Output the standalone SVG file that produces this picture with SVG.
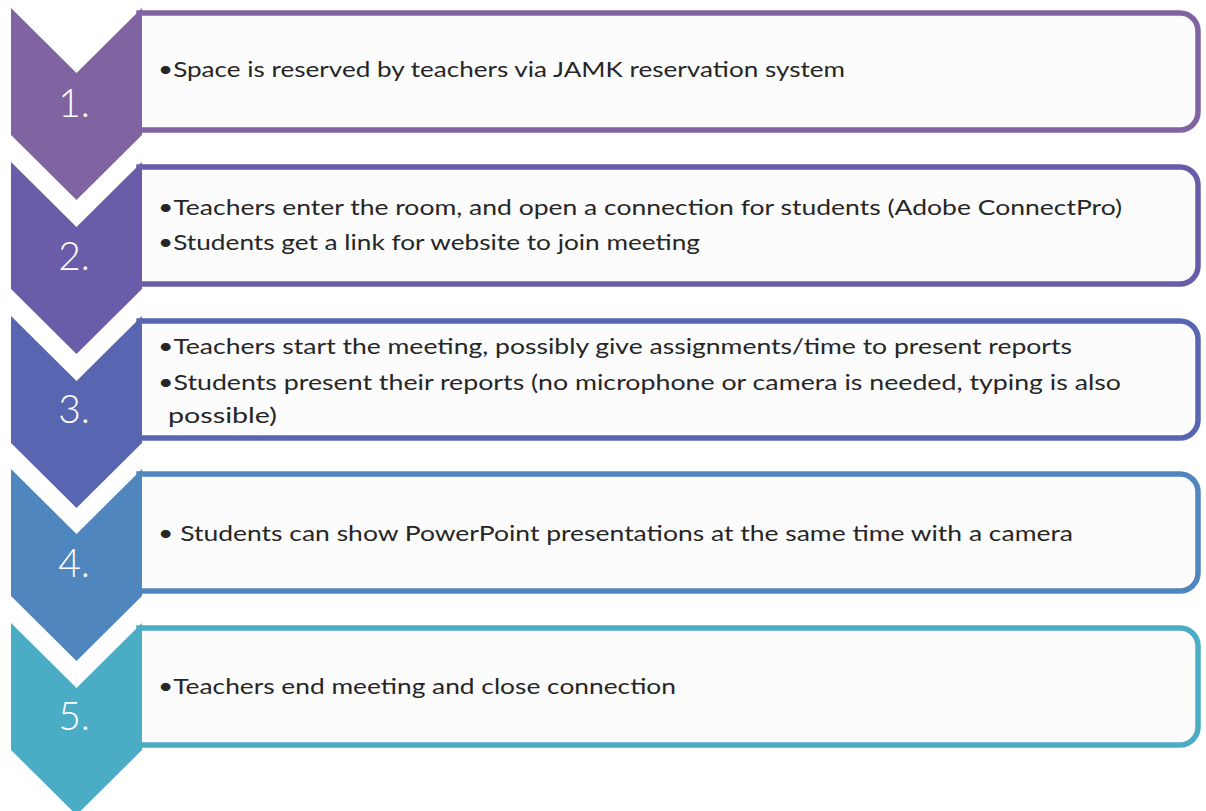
<svg xmlns="http://www.w3.org/2000/svg" width="1206" height="811" viewBox="0 0 1206 811">
  <style>
    .chev { stroke: none; }
    .box { fill: #fcfcfd; stroke-width: 5.5; }
    .num { font-family: Lato, "Liberation Sans", sans-serif; font-weight: 300; font-size: 39px; fill: #ffffff; text-anchor: middle; }
    .txt { font-family: Lato, "Liberation Sans", sans-serif; font-size: 20.5px; fill: #262626; }
  </style>
  <defs>
    <!-- chevron: top notch, straight sides, bottom point; placed by translate -->
    <path id="chevShape" d="M11,0 L76.5,65 L142,0 L142,127 L76.5,192 L11,127 Z"/>
    <!-- card with square left edge (hidden under chevron) and rounded right corners -->
    <path id="cardShape" d="M139,5 H1180 A18,18 0 0 1 1198,23 V104 A18,18 0 0 1 1180,122 H139 Z"/>
  </defs>

  <rect width="1206" height="811" fill="#ffffff"/>

  <g id="step1" transform="translate(0,8)">
    <use href="#cardShape" class="box" stroke="#8064a2"/>
    <use href="#chevShape" class="chev" fill="#8064a2"/>
    <text class="num" x="74" y="109">1.</text>
    <text class="txt" x="158" y="69" textLength="687" lengthAdjust="spacingAndGlyphs">•Space is reserved by teachers via JAMK  reservation system</text>
  </g>

  <g id="step2" transform="translate(0,162)">
    <use href="#cardShape" class="box" stroke="#6a5ca8"/>
    <use href="#chevShape" class="chev" fill="#6a5ca8"/>
    <text class="num" x="74" y="108">2.</text>
    <text class="txt" x="158" y="53" textLength="964" lengthAdjust="spacingAndGlyphs">•Teachers enter the room, and open a connection for students (Adobe ConnectPro)</text>
    <text class="txt" x="158" y="88" textLength="542" lengthAdjust="spacingAndGlyphs">•Students get a link for website to join meeting</text>
  </g>

  <g id="step3" transform="translate(0,316)">
    <use href="#cardShape" class="box" stroke="#5866b1"/>
    <use href="#chevShape" class="chev" fill="#5866b1"/>
    <text class="num" x="74" y="107">3.</text>
    <text class="txt" x="158" y="38" textLength="914" lengthAdjust="spacingAndGlyphs">•Teachers start the meeting,  possibly give assignments/time to present reports</text>
    <text class="txt" x="158" y="74" textLength="963" lengthAdjust="spacingAndGlyphs">•Students present their reports (no microphone or camera is needed, typing is also</text>
    <text class="txt" x="168" y="107" textLength="109" lengthAdjust="spacingAndGlyphs">possible)</text>
  </g>

  <g id="step4" transform="translate(0,469)">
    <use href="#cardShape" class="box" stroke="#4f86bd"/>
    <use href="#chevShape" class="chev" fill="#4f86bd"/>
    <text class="num" x="74" y="108">4.</text>
    <text class="txt" x="158" y="72" textLength="915" lengthAdjust="spacingAndGlyphs">• Students can show PowerPoint presentations at the same time with a camera</text>
  </g>

  <g id="step5" transform="translate(0,623)">
    <use href="#cardShape" class="box" stroke="#4bacc6"/>
    <use href="#chevShape" class="chev" fill="#4bacc6"/>
    <text class="num" x="74" y="107">5.</text>
    <text class="txt" x="158" y="71" textLength="518" lengthAdjust="spacingAndGlyphs">•Teachers end meeting and close connection</text>
  </g>

  <g id="connectors"/>
</svg>
